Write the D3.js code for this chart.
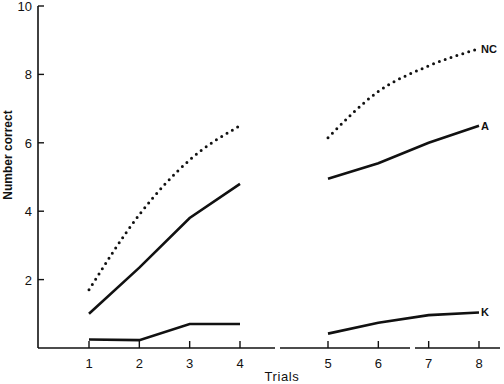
<!DOCTYPE html>
<html>
<head>
<meta charset="utf-8">
<script src="https://cdn.jsdelivr.net/npm/d3@7"></script>
<style>
  body { margin: 0; background: #fff; }
  text { font-family: "Liberation Sans", Arial, sans-serif; fill: #111; }
</style>
</head>
<body>
<svg id="chart" width="504" height="384"></svg>
<script>
// trials, split in two blocks
var trialsA = [1, 2, 3, 4];
var trialsB = [5, 6, 7, 8];
var yTicks = [2, 4, 6, 8, 10];

// number correct per trial
var ncA = [1.7, 3.9, 5.5, 6.5];
var ncB = [6.15, 7.5, 8.25, 8.75];
var aA = [1.0, 2.35, 3.8, 4.8];
var aB = [4.95, 5.4, 6.0, 6.5];
var kA = [0.25, 0.23, 0.7, 0.7];
var kB = [0.42, 0.74, 0.96, 1.04];

var svg = d3.select('#chart');

// piecewise scale leaves the gap between trial 4 and 5
var xScale = d3.scaleLinear().domain([1, 4, 5, 8]).range([89, 240, 328, 479]);
var yScale = d3.scaleLinear().domain([0, 10]).range([348, 6]);

var axisX = 38, baseY = yScale(0);

// y axis
svg.append('line')
    .attr('x1', axisX).attr('x2', axisX)
    .attr('y1', yScale(10)).attr('y2', baseY)
    .attr('stroke', '#111').attr('stroke-width', 1.6);

yTicks.forEach(function(t) {
    svg.append('line')
        .attr('x1', axisX).attr('x2', axisX + 6)
        .attr('y1', yScale(t)).attr('y2', yScale(t))
        .attr('stroke', '#111').attr('stroke-width', 1.4);
    svg.append('text')
        .attr('x', axisX - 6).attr('y', yScale(t) + 5)
        .attr('text-anchor', 'end')
        .attr('font-size', 13)
        .text(t);
});

// x axis, drawn in pieces with small breaks
var baseSegs = [[38, 275], [280, 410], [415, 500]];
baseSegs.forEach(function(s) {
    svg.append('line')
        .attr('x1', s[0]).attr('x2', s[1])
        .attr('y1', baseY).attr('y2', baseY)
        .attr('stroke', '#111').attr('stroke-width', 1.6);
});

trialsA.concat(trialsB).forEach(function(t) {
    svg.append('line')
        .attr('x1', xScale(t)).attr('x2', xScale(t))
        .attr('y1', baseY).attr('y2', baseY - 7)
        .attr('stroke', '#111').attr('stroke-width', 1.4);
    svg.append('text')
        .attr('x', xScale(t)).attr('y', 368)
        .attr('text-anchor', 'middle')
        .attr('font-size', 13)
        .text(t);
});

// axis titles
svg.append('text')
    .attr('x', 282).attr('y', 381)
    .attr('text-anchor', 'middle')
    .attr('font-size', 13)
    .attr('letter-spacing', 0.6)
    .text('Trials');

svg.append('text')
    .attr('transform', 'translate(12,155) rotate(-90)')
    .attr('text-anchor', 'middle')
    .attr('font-size', 12)
    .attr('font-weight', 'bold')
    .text('Number correct');

// lines
var solid = d3.line()
    .x(function(d) { return xScale(d[0]); })
    .y(function(d) { return yScale(d[1]); });

var smooth = d3.line()
    .curve(d3.curveMonotoneX)
    .x(function(d) { return xScale(d[0]); })
    .y(function(d) { return yScale(d[1]); });

function pairs(xs, ys) {
    return xs.map(function(x, i) { return [x, ys[i]]; });
}

[[trialsA, aA], [trialsB, aB], [trialsA, kA], [trialsB, kB]].forEach(function(p) {
    svg.append('path')
        .attr('d', solid(pairs(p[0], p[1])))
        .attr('fill', 'none')
        .attr('stroke', '#111')
        .attr('stroke-width', 2.6);
});

[[trialsA, ncA], [trialsB, ncB]].forEach(function(p) {
    svg.append('path')
        .attr('d', smooth(pairs(p[0], p[1])))
        .attr('fill', 'none')
        .attr('stroke', '#111')
        .attr('stroke-width', 3)
        .attr('stroke-linecap', 'round')
        .attr('stroke-dasharray', '0,6.2');
});

// end labels
var labels = [['NC', ncB[3]], ['A', aB[3]], ['K', kB[3]]];
labels.forEach(function(l) {
    svg.append('text')
        .attr('x', xScale(8) + 2).attr('y', yScale(l[1]) + 4)
        .attr('font-size', 11)
        .attr('font-weight', 'bold')
        .text(l[0]);
});
</script>
</body>
</html>
